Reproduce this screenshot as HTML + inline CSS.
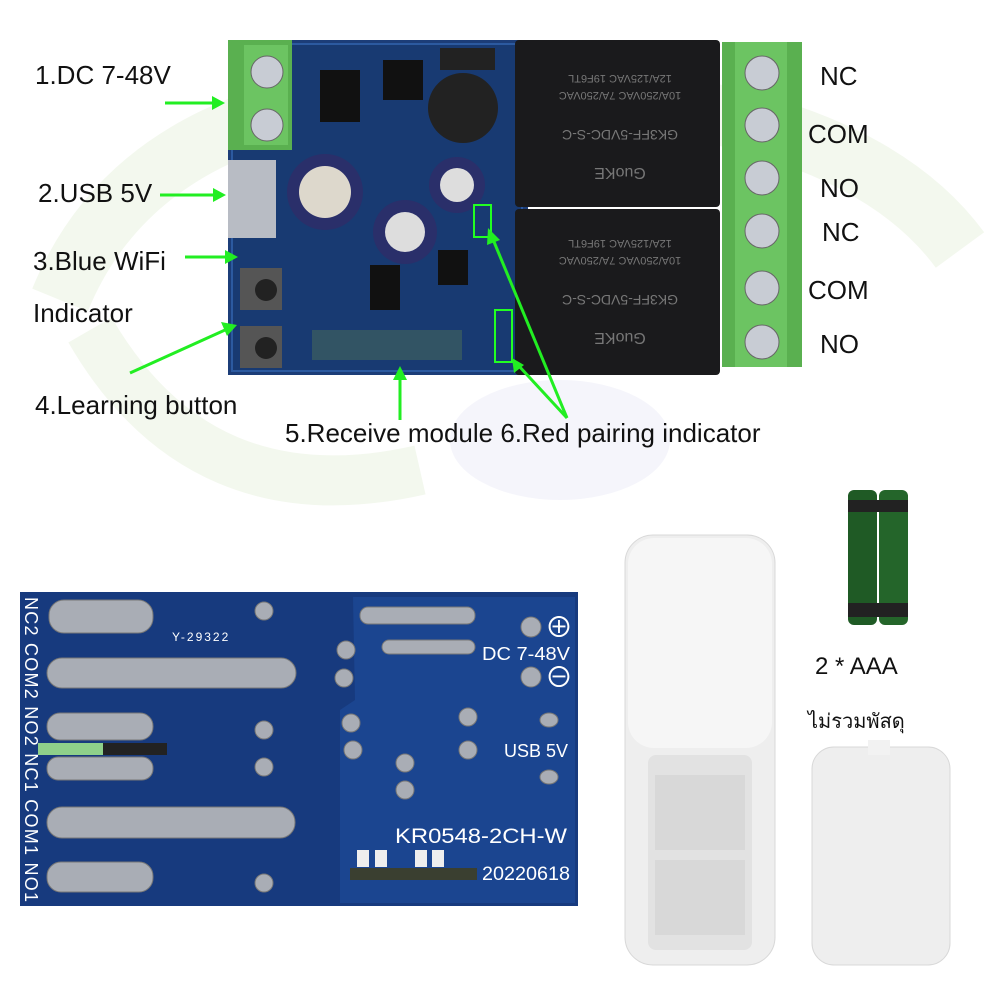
<!DOCTYPE html>
<html><head><meta charset="utf-8"><style>
html,body{margin:0;padding:0;background:#fff;}
svg{display:block;}
text{font-family:"Liberation Sans","Noto Sans CJK SC",sans-serif;}
</style></head><body>
<svg width="1000" height="1000" viewBox="0 0 1000 1000" xmlns="http://www.w3.org/2000/svg">
<!-- faint watermark -->
<path d="M60,300 Q150,80 500,90 Q850,100 960,250" fill="none" stroke="#f3f8ee" stroke-width="60"/>
<path d="M90,330 Q200,520 420,470" fill="none" stroke="#f3f8ee" stroke-width="50"/>
<ellipse cx="560" cy="440" rx="110" ry="60" fill="#f5f5fb"/>
<!-- ===== top PCB ===== -->
<rect x="228" y="40" width="300" height="335" fill="#1c3d78"/>
<rect x="232" y="44" width="290" height="327" fill="#183a72" stroke="#2c5aa0" stroke-width="2"/>
<rect x="228" y="40" width="64" height="110" fill="#5ab050"/>
<rect x="244" y="45" width="44" height="100" fill="#6cc462"/>
<circle cx="267" cy="72" r="16" fill="#c8ccd4" stroke="#666"/>
<circle cx="267" cy="125" r="16" fill="#c8ccd4" stroke="#666"/>
<rect x="228" y="160" width="48" height="78" fill="#b8bcc4"/>
<rect x="320" y="70" width="40" height="52" fill="#111"/>
<rect x="383" y="60" width="40" height="40" fill="#111"/>
<rect x="440" y="48" width="55" height="22" fill="#222"/>
<circle cx="463" cy="108" r="35" fill="#222"/>
<circle cx="325" cy="192" r="38" fill="#2a2f6a"/>
<circle cx="325" cy="192" r="26" fill="#ddd8cc"/>
<circle cx="405" cy="232" r="32" fill="#2a2f6a"/>
<circle cx="405" cy="232" r="20" fill="#ddd"/>
<circle cx="457" cy="185" r="28" fill="#2a2f6a"/>
<circle cx="457" cy="185" r="17" fill="#ddd"/>
<rect x="240" y="268" width="42" height="42" fill="#555"/><circle cx="266" cy="290" r="11" fill="#222"/>
<rect x="240" y="326" width="42" height="42" fill="#555"/><circle cx="266" cy="348" r="11" fill="#222"/>
<rect x="370" y="265" width="30" height="45" fill="#111"/>
<rect x="438" y="250" width="30" height="35" fill="#111"/>
<rect x="312" y="330" width="150" height="30" fill="#3a5b60" opacity="0.8"/>
<rect x="515" y="40" width="205" height="167" rx="4" fill="#1a1a1c"/>
<rect x="515" y="209" width="205" height="166" rx="4" fill="#1a1a1c"/>
<g fill="#777" font-size="11" text-anchor="middle">
<text x="620" y="75" transform="rotate(180 620 75)">12A/125VAC 19F6TL</text>
<text x="620" y="92" transform="rotate(180 620 92)">10A/250VAC 7A/250VAC</text>
<text x="620" y="130" transform="rotate(180 620 130)" font-size="14">GK3FF-5VDC-S-C</text>
<text x="620" y="168" transform="rotate(180 620 168)" font-size="16">GuoKE</text>
<text x="620" y="240" transform="rotate(180 620 240)">12A/125VAC 19F6TL</text>
<text x="620" y="257" transform="rotate(180 620 257)">10A/250VAC 7A/250VAC</text>
<text x="620" y="295" transform="rotate(180 620 295)" font-size="14">GK3FF-5VDC-S-C</text>
<text x="620" y="333" transform="rotate(180 620 333)" font-size="16">GuoKE</text>
</g>
<rect x="722" y="42" width="80" height="325" fill="#5ab050"/>
<rect x="735" y="42" width="52" height="325" fill="#6cc462"/>
<g fill="#c8ccd4" stroke="#666">
<circle cx="762" cy="73" r="17"/><circle cx="762" cy="125" r="17"/><circle cx="762" cy="178" r="17"/>
<circle cx="762" cy="231" r="17"/><circle cx="762" cy="288" r="17"/><circle cx="762" cy="342" r="17"/>
</g>
<rect x="474" y="205" width="17" height="32" fill="none" stroke="#2f2" stroke-width="2"/>
<rect x="495" y="310" width="17" height="52" fill="none" stroke="#2f2" stroke-width="2"/>
<g stroke="#22ee22" stroke-width="3" fill="#22ee22">
<line x1="165" y1="103" x2="215" y2="103"/><polygon points="225,103 212,96 212,110" stroke="none"/>
<line x1="160" y1="195" x2="215" y2="195"/><polygon points="226,195 213,188 213,202" stroke="none"/>
<line x1="185" y1="257" x2="228" y2="257"/><polygon points="238,257 225,250 225,264" stroke="none"/>
<line x1="130" y1="373" x2="225" y2="330"/><polygon points="237,325 221,322 227,336" stroke="none"/>
<line x1="400" y1="420" x2="400" y2="378"/><polygon points="400,366 393,380 407,380" stroke="none"/>
<line x1="567" y1="418" x2="492" y2="237"/><polygon points="488,228 487,245 500,240" stroke="none"/>
<line x1="567" y1="418" x2="518" y2="365"/><polygon points="512,358 514,373 524,365" stroke="none"/>
</g>
<g font-size="26" fill="#111">
<text x="35" y="84">1.DC 7-48V</text>
<text x="38" y="202">2.USB 5V</text>
<text x="33" y="270">3.Blue WiFi</text>
<text x="33" y="322">Indicator</text>
<text x="35" y="414">4.Learning button</text>
<text x="285" y="442">5.Receive module 6.Red pairing indicator</text>
<text x="820" y="85">NC</text><text x="808" y="143">COM</text><text x="820" y="197">NO</text>
<text x="822" y="241">NC</text><text x="808" y="299">COM</text><text x="820" y="353">NO</text>
</g>
<!-- ===== bottom PCB ===== -->
<rect x="20" y="592" width="558" height="314" fill="#173a7e"/>
<polygon points="353,597 575,597 575,903 340,903 340,710 355,700" fill="#1b4590"/>
<g fill="#a9adb5" stroke="#777">
<rect x="49" y="600" width="104" height="33" rx="15"/>
<rect x="47" y="658" width="249" height="30" rx="15"/>
<rect x="47" y="713" width="106" height="27" rx="13"/>
<rect x="47" y="757" width="106" height="23" rx="11"/>
<rect x="47" y="807" width="248" height="31" rx="15"/>
<rect x="47" y="862" width="106" height="30" rx="14"/>
<rect x="360" y="607" width="115" height="17" rx="8"/>
<rect x="382" y="640" width="93" height="14" rx="7"/>
<circle cx="264" cy="611" r="9"/><circle cx="264" cy="730" r="9"/><circle cx="264" cy="767" r="9"/><circle cx="264" cy="883" r="9"/>
<circle cx="346" cy="650" r="9"/><circle cx="344" cy="678" r="9"/><circle cx="351" cy="723" r="9"/><circle cx="353" cy="750" r="9"/>
<circle cx="468" cy="717" r="9"/><circle cx="468" cy="750" r="9"/><circle cx="405" cy="763" r="9"/><circle cx="405" cy="790" r="9"/>
<circle cx="531" cy="627" r="10"/><circle cx="531" cy="677" r="10"/>
<ellipse cx="549" cy="720" rx="9" ry="7"/><ellipse cx="549" cy="777" rx="9" ry="7"/>
</g>
<rect x="38" y="743" width="65" height="12" fill="#8fd08a"/><rect x="103" y="743" width="64" height="12" fill="#222"/>
<rect x="350" y="868" width="127" height="12" fill="#3a3f30"/>
<g fill="#eee">
<rect x="357" y="850" width="12" height="17"/><rect x="375" y="850" width="12" height="17"/><rect x="415" y="850" width="12" height="17"/><rect x="432" y="850" width="12" height="17"/>
</g>
<g fill="#fff">
<text x="172" y="641" font-size="12" letter-spacing="2">Y-29322</text>
<text x="482" y="660" font-size="18" textLength="88" lengthAdjust="spacingAndGlyphs">DC 7-48V</text>
<text x="504" y="757" font-size="18">USB 5V</text>
<text x="395" y="843" font-size="21" textLength="172" lengthAdjust="spacingAndGlyphs">KR0548-2CH-W</text>
<text x="482" y="880" font-size="19" textLength="88" lengthAdjust="spacingAndGlyphs">20220618</text>
<text x="545" y="637" font-size="28">⊕</text><text x="545" y="687" font-size="28">⊖</text>
</g>
<text transform="translate(25,597) rotate(90)" font-size="18" fill="#fff" textLength="305" lengthAdjust="spacing">NC2 COM2 NO2 NC1 COM1 NO1</text>
<!-- ===== remote ===== -->
<rect x="625" y="535" width="150" height="430" rx="28" fill="#eeeeee" stroke="#d8d8d8"/>
<rect x="628" y="538" width="144" height="210" rx="26" fill="#f6f6f6"/>
<rect x="648" y="755" width="104" height="195" rx="8" fill="#e2e2e2"/>
<rect x="655" y="775" width="90" height="75" fill="#d8d8d8"/>
<rect x="655" y="860" width="90" height="75" fill="#d8d8d8"/>
<rect x="812" y="747" width="138" height="218" rx="22" fill="#eeeeee" stroke="#d8d8d8"/>
<rect x="868" y="740" width="22" height="15" fill="#f2f2f2"/>
<rect x="848" y="490" width="29" height="135" rx="6" fill="#1f5a25"/>
<rect x="879" y="490" width="29" height="135" rx="6" fill="#24652a"/>
<rect x="848" y="500" width="60" height="12" fill="#222"/>
<rect x="848" y="603" width="60" height="14" fill="#222"/>
<text x="815" y="674" font-size="24" fill="#111">2 * AAA</text>
<text x="808" y="728" font-size="20" fill="#111">ไม่รวมพัสดุ</text>
</svg>
</body></html>
